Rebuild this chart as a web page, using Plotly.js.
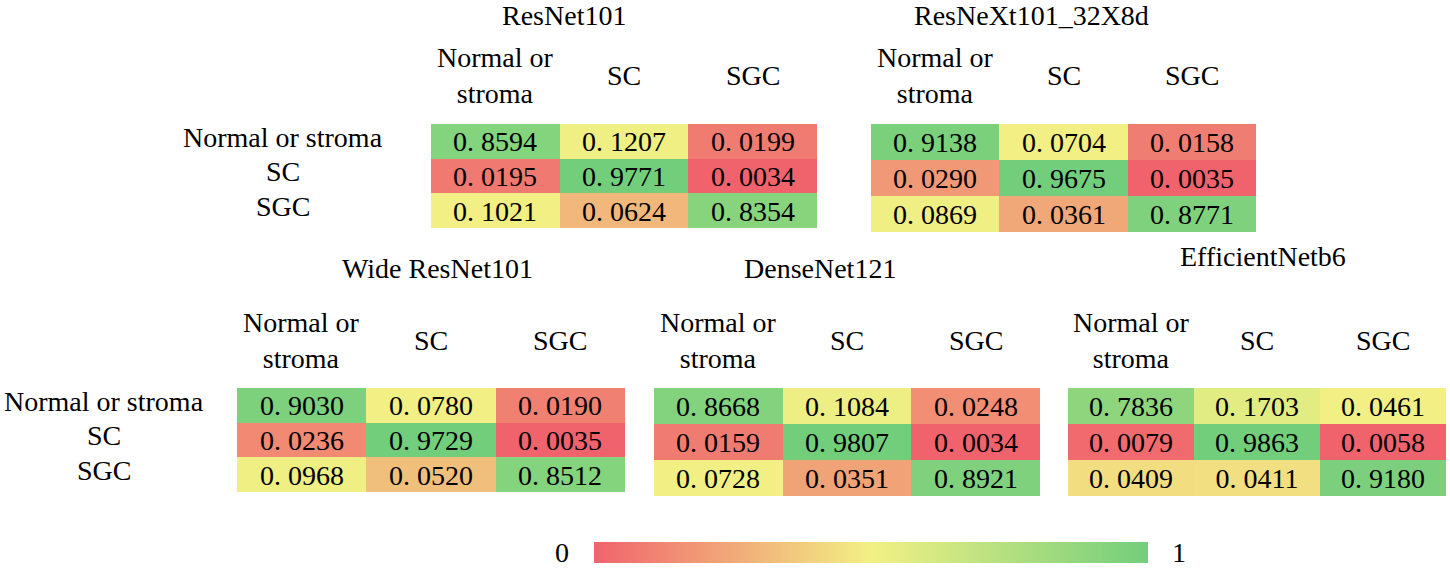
<!DOCTYPE html>
<html>
<head>
<meta charset="utf-8">
<script src="https://cdn.plot.ly/plotly-3.0.1.min.js"></script>
<style>html,body{margin:0;padding:0;background:#fff;}#chart{width:1450px;height:568px;}</style>
</head>
<body>
<div id="chart"></div>
<script>
// ---- data ----
const categories = ['Normal or stroma', 'SC', 'SGC'];
const colTickLabels = ['Normal or<br>stroma', 'SC', 'SGC'];
const rowTickLabels = ['Normal or stroma', 'SC', 'SGC'];
const modelNames = ['ResNet101', 'ResNeXt101_32X8d', 'Wide ResNet101', 'DenseNet121', 'EfficientNetb6'];
const resnet101 = [[0.8594, 0.1207, 0.0199], [0.0195, 0.9771, 0.0034], [0.1021, 0.0624, 0.8354]];
const resnext101 = [[0.9138, 0.0704, 0.0158], [0.0290, 0.9675, 0.0035], [0.0869, 0.0361, 0.8771]];
const wideResnet101 = [[0.9030, 0.0780, 0.0190], [0.0236, 0.9729, 0.0035], [0.0968, 0.0520, 0.8512]];
const densenet121 = [[0.8668, 0.1084, 0.0248], [0.0159, 0.9807, 0.0034], [0.0728, 0.0351, 0.8921]];
const efficientnetb6 = [[0.7836, 0.1703, 0.0461], [0.0079, 0.9863, 0.0058], [0.0409, 0.0411, 0.9180]];
const colorbarRange = [0, 1];

// ---- styling ----
const RED = '#F0636D', YEL = '#F2F084', GRN = '#73CE7C';
const FONT = 'Liberation Serif';
const FS = 28;
const W = 1450, H = 568;
const px = v => v / W, py = v => 1 - v / H;

const panels = [
  {z: resnet101,    x: [431, 817],  y: [124, 232], title: [564, 16],  colLab: 75,  rowLab: 283},
  {z: resnext101,   x: [871, 1256], y: [124, 232], title: [1031, 16], colLab: 75,  rowLab: null},
  {z: wideResnet101,x: [237, 625],  y: [388, 496], title: [437, 268], colLab: 340, rowLab: 104},
  {z: densenet121,  x: [654, 1040], y: [388, 496], title: [820, 268], colLab: 340, rowLab: null},
  {z: efficientnetb6,x: [1068, 1446], y: [388, 496], title: [1263, 256], colLab: 340, rowLab: null}
];

const traces = [];
const layout = {
  width: W, height: H,
  margin: {l: 0, r: 0, t: 0, b: 0},
  paper_bgcolor: '#fff', plot_bgcolor: '#fff',
  font: {family: FONT, size: FS, color: '#000'},
  showlegend: false,
  annotations: []
};

panels.forEach((p, i) => {
  const n = i + 1;
  const xa = 'x' + (n === 1 ? '' : n), ya = 'y' + (n === 1 ? '' : n);
  const flat = p.z.flat().slice().sort((a, b) => a - b);
  const zmin = flat[0], zmax = flat[flat.length - 1];
  const med = flat[Math.floor(flat.length / 2)];
  const mid = (med - zmin) / (zmax - zmin);
  traces.push({
    type: 'heatmap',
    z: p.z, x: categories, y: categories,
    xaxis: xa, yaxis: ya,
    zmin: zmin, zmax: zmax,
    colorscale: [[0, RED], [mid, YEL], [1, GRN]],
    showscale: false,
    text: p.z.map(r => r.map(v => v.toFixed(4).replace('.', '. '))),
    texttemplate: '%{text}',
    textfont: {family: FONT, size: FS, color: '#000'},
    hoverinfo: 'skip'
  });
  const axBase = {showgrid: false, zeroline: false, showticklabels: false, ticks: '', showline: false, fixedrange: true};
  layout['xaxis' + (n === 1 ? '' : n)] = Object.assign({}, axBase, {
    domain: [px(p.x[0]), px(p.x[1])], anchor: ya, type: 'category'
  });
  layout['yaxis' + (n === 1 ? '' : n)] = Object.assign({}, axBase, {
    domain: [py(p.y[1]), py(p.y[0])], anchor: xa, type: 'category', autorange: 'reversed'
  });
  layout.annotations.push({
    text: modelNames[i], xref: 'paper', yref: 'paper',
    x: px(p.title[0]), y: py(p.title[1]), xanchor: 'center', yanchor: 'middle',
    showarrow: false, font: {family: FONT, size: FS, color: '#000'}
  });
  categories.forEach((c, j) => {
    layout.annotations.push({
      text: colTickLabels[j], xref: xa, yref: 'paper',
      x: c, y: py(p.colLab), xanchor: 'center', yanchor: 'middle',
      showarrow: false, font: {family: FONT, size: FS, color: '#000'}
    });
  });
  if (p.rowLab !== null) {
    categories.forEach((c, j) => {
      layout.annotations.push({
        text: rowTickLabels[j], xref: 'paper', yref: ya,
        x: px(p.rowLab), y: c, xanchor: 'center', yanchor: 'middle', yshift: 4,
        showarrow: false, font: {family: FONT, size: FS, color: '#000'}
      });
    });
  }
});

traces.push({
  type: 'heatmap', z: [colorbarRange], xaxis: 'x6', yaxis: 'y6',
  zmin: colorbarRange[0], zmax: colorbarRange[1], opacity: 0,
  colorscale: [[0, RED], [0.5, YEL], [1, GRN]],
  hoverinfo: 'skip',
  showscale: true,
  colorbar: {
    orientation: 'h', x: px(871), xanchor: 'center', y: py(542), yanchor: 'top',
    len: 554 / W, lenmode: 'fraction', thickness: 21, thicknessmode: 'pixels',
    outlinewidth: 0, showticklabels: false, ticks: '', xpad: 0, ypad: 0
  }
});
layout.xaxis6 = {domain: [0, 0.001], anchor: 'y6', visible: false, fixedrange: true};
layout.yaxis6 = {domain: [0, 0.001], anchor: 'x6', visible: false, fixedrange: true};
layout.annotations.push({
  text: String(colorbarRange[0]), xref: 'paper', yref: 'paper', x: px(562), y: py(552),
  xanchor: 'center', yanchor: 'middle', showarrow: false, font: {family: FONT, size: FS, color: '#000'}
});
layout.annotations.push({
  text: String(colorbarRange[1]), xref: 'paper', yref: 'paper', x: px(1179), y: py(552),
  xanchor: 'center', yanchor: 'middle', showarrow: false, font: {family: FONT, size: FS, color: '#000'}
});

Plotly.newPlot('chart', traces, layout, {displayModeBar: false, staticPlot: true});
</script>
</body>
</html>
